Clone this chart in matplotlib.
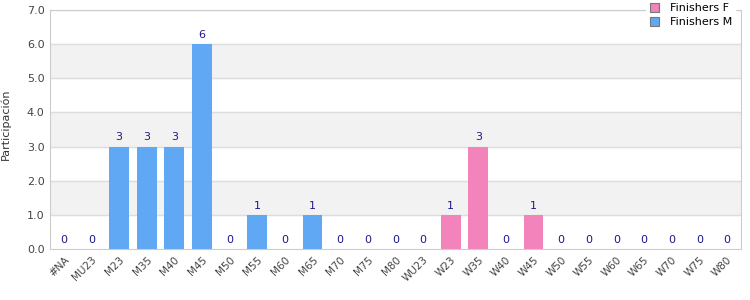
import numpy as np
import matplotlib.pyplot as plt
from matplotlib.patches import Patch

# categories and values
categories = ['#NA', 'MU23', 'M23', 'M35', 'M40', 'M45', 'M50', 'M55', 'M60', 'M65',
              'M70', 'M75', 'M80', 'WU23', 'W23', 'W35', 'W40', 'W45', 'W50', 'W55',
              'W60', 'W65', 'W70', 'W75', 'W80']
finishers_m = [0, 0, 3, 3, 3, 6, 0, 1, 0, 1, 0, 0, 0, 0, 0, 0, 0, 0, 0, 0, 0, 0, 0, 0, 0]
finishers_f = [0, 0, 0, 0, 0, 0, 0, 0, 0, 0, 0, 0, 0, 0, 1, 3, 0, 1, 0, 0, 0, 0, 0, 0, 0]

col_m = '#60a8f4'
col_f = '#f283bb'

fig = plt.figure(figsize=(7.5, 3), dpi=100)
ax = fig.add_axes([0.0667, 0.17, 0.921, 0.797])

x = np.arange(len(categories))
m = np.array(finishers_m)
f = np.array(finishers_f)

# alternating bands
for lo in [1, 3, 5]:
    ax.axhspan(lo, lo + 1, color='#f2f2f2', zorder=0)
for yv in range(1, 8):
    ax.axhline(yv, color='#dddddd', lw=1, zorder=1)

ax.bar(x, m, width=0.72, color=col_m, zorder=2)
ax.bar(x, f, width=0.72, bottom=m, color=col_f, zorder=2)

tot = m + f
for xi, v in zip(x, tot):
    yy = v + 0.12 if v > 0 else 0.12
    ax.text(xi, yy, str(v), ha='center', va='bottom', fontsize=8, color='#1a1a8c', zorder=3)

ax.set_xlim(-0.5, len(categories) - 0.5)
ax.set_ylim(0, 7)
ax.set_yticks(range(0, 8))
ax.set_yticklabels([f'{v:.1f}' for v in range(0, 8)], fontsize=8, color='#444444')
ax.set_xticks(x)
ax.set_xticklabels(categories, rotation=45, ha='right', rotation_mode='anchor',
                   fontsize=7.5, color='#444444')
ax.tick_params(length=0, pad=4)
for s in ['left', 'bottom', 'right', 'top']:
    ax.spines[s].set_color('#cccccc')
ax.set_ylabel('Participación', fontsize=8, color='#333333')
ax.yaxis.set_label_coords(-0.057, 0.52)

handles = [Patch(facecolor=col_f, edgecolor='#777777', lw=0.8, label='Finishers F'),
           Patch(facecolor=col_m, edgecolor='#777777', lw=0.8, label='Finishers M')]
leg = ax.legend(handles=handles, loc='upper right', bbox_to_anchor=(1.0, 1.065),
                fontsize=8, frameon=True, fancybox=False, handlelength=0.8, handleheight=0.8,
                borderpad=0.3, labelspacing=0.35, handletextpad=1.0)
leg.get_frame().set_edgecolor('white')
leg.get_frame().set_facecolor('white')
leg.get_frame().set_alpha(1)
leg.set_zorder(5)

fig.savefig('out.png', dpi=100)
